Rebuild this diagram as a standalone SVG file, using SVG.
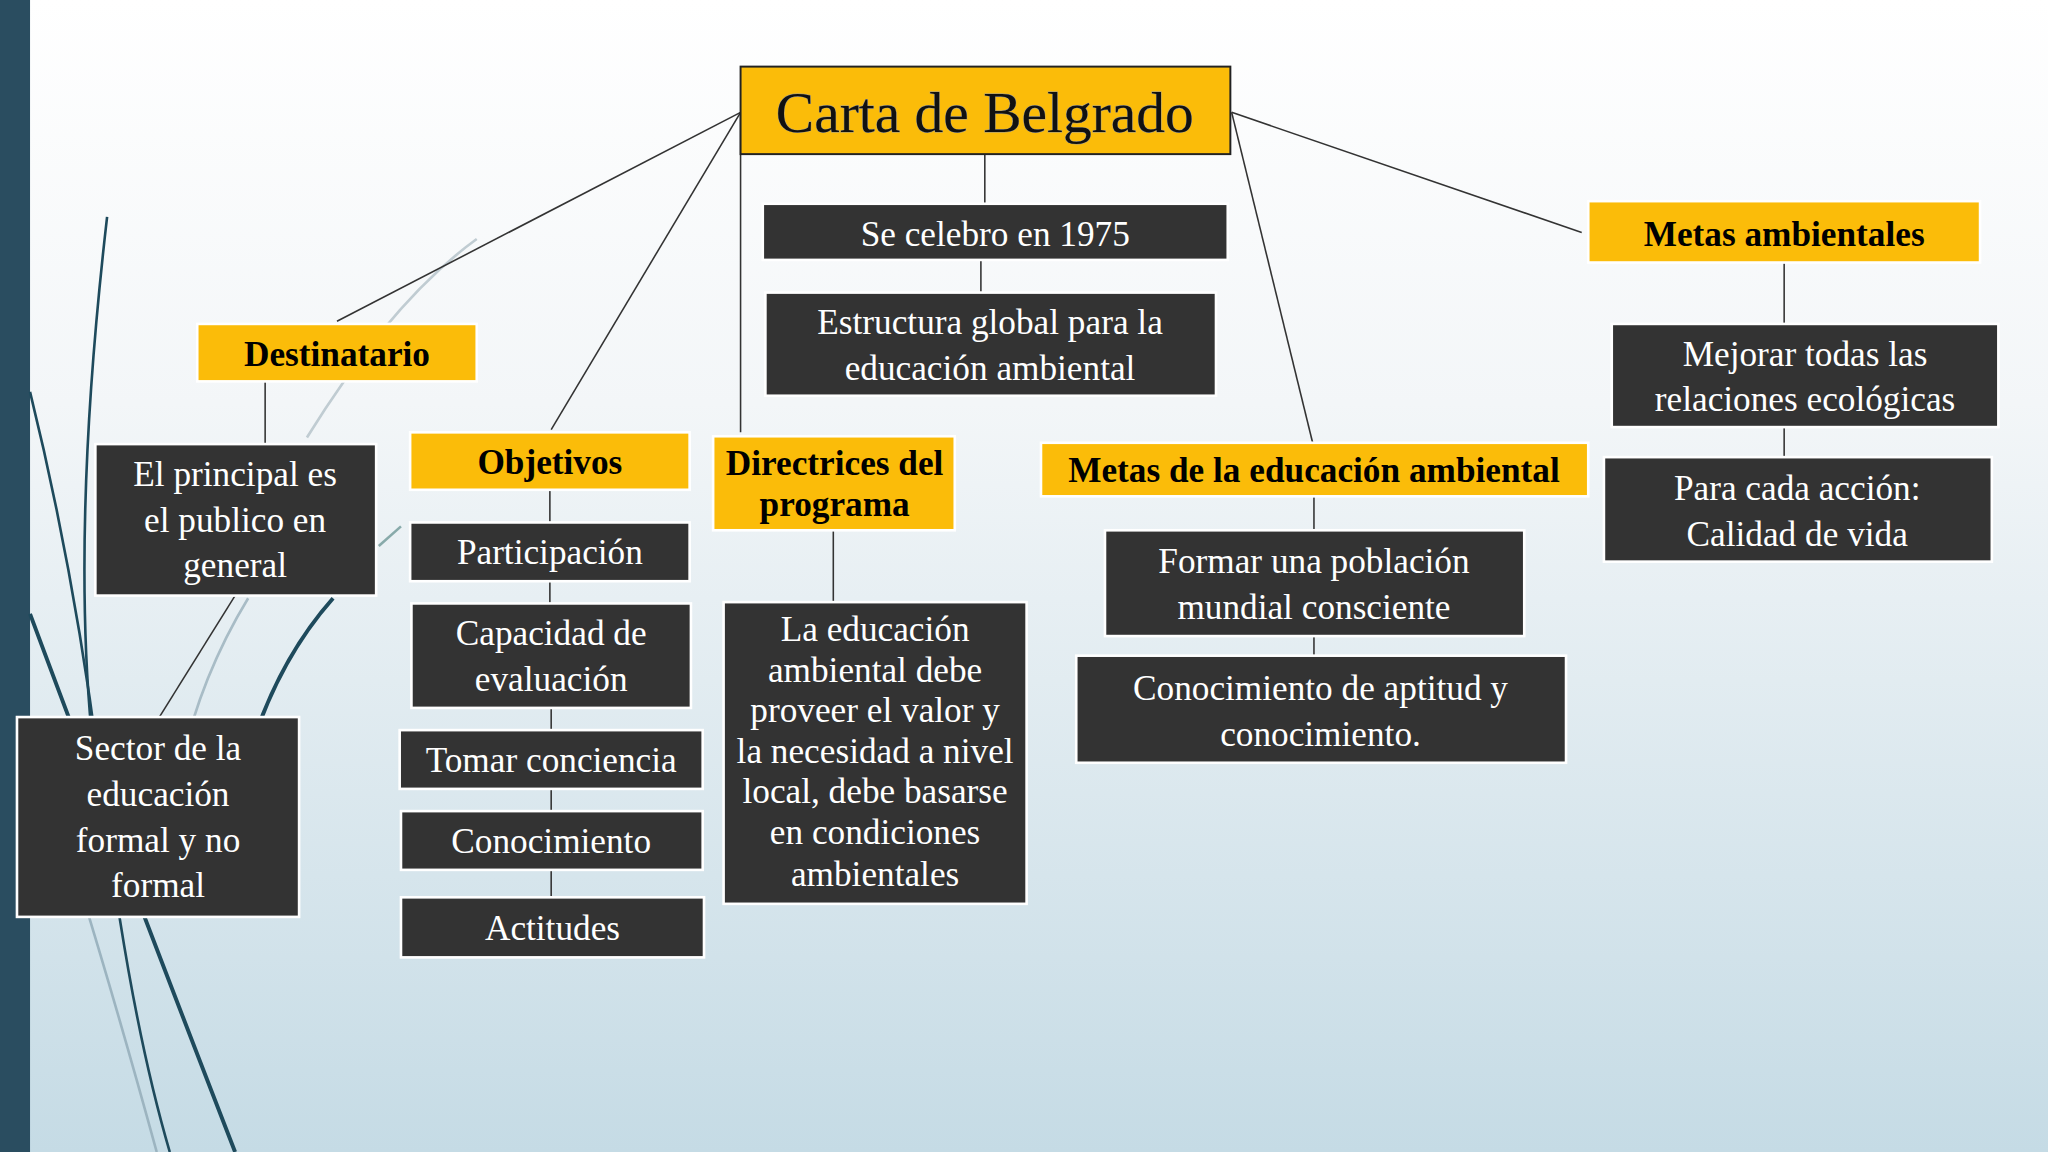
<svg xmlns="http://www.w3.org/2000/svg" width="2048" height="1152" viewBox="0 0 2048 1152">
<defs>
<linearGradient id="bg" x1="0" y1="0" x2="0" y2="1"><stop offset="0" stop-color="#ffffff"/><stop offset="0.35" stop-color="#f3f6f8"/><stop offset="1" stop-color="#c5dbe5"/></linearGradient>
<style>
.d{fill:#333333;stroke:#ffffff;stroke-width:2}
.y{fill:#fbbc09;stroke:#ffffff;stroke-width:2}
.t{font-family:"Liberation Serif",serif;fill:#ffffff;font-size:27px;text-anchor:middle}
.b{font-family:"Liberation Serif",serif;fill:#000000;font-weight:bold;font-size:27px;text-anchor:middle}
.c line{stroke:#333333;stroke-width:1.2}
.deco{fill:none;stroke:#1e4a5c;stroke-width:2}
</style>
</defs>
<rect width="2048" height="1152" fill="url(#bg)"/>
<g transform="scale(1.30612)">
<rect x="0" y="0" width="23" height="882" fill="#2a4d60"/>
<g class="deco">
<path d="M82 166 Q55 400 70 560"/>
<path d="M23 300 Q60 450 80 620 Q100 780 130 882"/>
<path d="M23 470 Q90 650 180 882" stroke-width="3"/>
<path d="M23 560 Q70 700 120 882" stroke="#9cb4c0"/>
<path d="M255 458 Q200 520 180 620" stroke-width="3"/>
<path d="M190 458 Q140 540 130 640" stroke="#a8bcc6"/>
<path d="M365 183 Q300 230 235 335" stroke="#c0ccd2"/>
<path d="M307 403 L290 418" stroke="#8aa"/>
</g>
<g class="c">
<line x1="567" y1="86" x2="258" y2="246"/>
<line x1="567" y1="86" x2="422" y2="329"/>
<line x1="567" y1="86" x2="567" y2="331"/>
<line x1="754" y1="118" x2="754" y2="156"/>
<line x1="943" y1="86" x2="1005" y2="339"/>
<line x1="943" y1="86" x2="1211" y2="178"/>
<line x1="751" y1="199" x2="751" y2="224"/>
<line x1="1366" y1="201" x2="1366" y2="248"/>
<line x1="1366" y1="327" x2="1366" y2="350"/>
<line x1="203" y1="292" x2="203" y2="340"/>
<line x1="180" y1="456" x2="122" y2="549"/>
<line x1="421" y1="375" x2="421" y2="400"/>
<line x1="421" y1="445" x2="421" y2="462"/>
<line x1="422" y1="542" x2="422" y2="559"/>
<line x1="422" y1="604" x2="422" y2="621"/>
<line x1="422" y1="666" x2="422" y2="687"/>
<line x1="638" y1="406" x2="638" y2="461"/>
<line x1="1006" y1="380" x2="1006" y2="406"/>
<line x1="1006" y1="487" x2="1006" y2="502"/>
</g>
<g id="title"><rect x="567" y="51" width="375" height="67" fill="#fbbc09" stroke="#222" stroke-width="1.5"/><text x="754" y="101" font-family="Liberation Serif,serif" font-size="44" text-anchor="middle" fill="#111" style="paint-order:stroke" stroke="#999" stroke-width="0.6">Carta de Belgrado</text></g>
<g id="n1975"><rect class="d" x="584" y="156" width="356" height="43"/><text class="t" x="762" y="188">Se celebro en 1975</text></g>
<g id="estructura"><rect class="d" x="586" y="224" width="345" height="79"/><text class="t" x="758" y="256">Estructura global para la</text><text class="t" x="758" y="291">educación ambiental</text></g>
<g id="metasamb"><rect class="y" x="1216" y="154" width="300" height="47"/><text class="b" x="1366" y="188">Metas ambientales</text></g>
<g id="mejorar"><rect class="d" x="1234" y="248" width="296" height="79"/><text class="t" x="1382" y="280">Mejorar todas las</text><text class="t" x="1382" y="315">relaciones ecológicas</text></g>
<g id="paracada"><rect class="d" x="1228" y="350" width="297" height="80"/><text class="t" x="1376" y="383">Para cada acción:</text><text class="t" x="1376" y="418">Calidad de vida</text></g>
<g id="destinatario"><rect class="y" x="151" y="248" width="214" height="44"/><text class="b" x="258" y="280">Destinatario</text></g>
<g id="principal"><rect class="d" x="73" y="340" width="215" height="116"/><text class="t" x="180" y="372">El principal es</text><text class="t" x="180" y="407">el publico en</text><text class="t" x="180" y="442">general</text></g>
<g id="sector"><rect class="d" x="13" y="549" width="216" height="153"/><text class="t" x="121" y="582">Sector de la</text><text class="t" x="121" y="617">educación</text><text class="t" x="121" y="652">formal y no</text><text class="t" x="121" y="687">formal</text></g>
<g id="objetivos"><rect class="y" x="314" y="331" width="214" height="44"/><text class="b" x="421" y="363">Objetivos</text></g>
<g id="participacion"><rect class="d" x="314" y="400" width="214" height="45"/><text class="t" x="421" y="432">Participación</text></g>
<g id="capacidad"><rect class="d" x="315" y="462" width="214" height="80"/><text class="t" x="422" y="494">Capacidad de</text><text class="t" x="422" y="529">evaluación</text></g>
<g id="tomar"><rect class="d" x="306" y="559" width="232" height="45"/><text class="t" x="422" y="591">Tomar conciencia</text></g>
<g id="conocimiento"><rect class="d" x="307" y="621" width="231" height="45"/><text class="t" x="422" y="653">Conocimiento</text></g>
<g id="actitudes"><rect class="d" x="307" y="687" width="232" height="46"/><text class="t" x="423" y="720">Actitudes</text></g>
<g id="directrices"><rect class="y" x="546" y="334" width="185" height="72"/><text class="b" x="639" y="364" font-size="24">Directrices del</text><text class="b" x="639" y="395" font-size="24">programa</text></g>
<g id="laeducacion"><rect class="d" x="554" y="461" width="232" height="231"/>
<text class="t" font-size="23" x="670" y="491">La educación</text><text class="t" font-size="23" x="670" y="522">ambiental debe</text><text class="t" font-size="23" x="670" y="553">proveer el valor y</text><text class="t" font-size="23" x="670" y="584">la necesidad a nivel</text><text class="t" font-size="23" x="670" y="615">local, debe basarse</text><text class="t" font-size="23" x="670" y="646">en condiciones</text><text class="t" font-size="23" x="670" y="678">ambientales</text></g>
<g id="metasedu"><rect class="y" x="797" y="339" width="419" height="41"/><text class="b" x="1006" y="369" font-size="24">Metas de la educación ambiental</text></g>
<g id="formar"><rect class="d" x="846" y="406" width="321" height="81"/><text class="t" x="1006" y="439">Formar una población</text><text class="t" x="1006" y="474">mundial consciente</text></g>
<g id="aptitud"><rect class="d" x="824" y="502" width="375" height="82"/><text class="t" x="1011" y="536">Conocimiento de aptitud y</text><text class="t" x="1011" y="571">conocimiento.</text></g>
</g>
</svg>
